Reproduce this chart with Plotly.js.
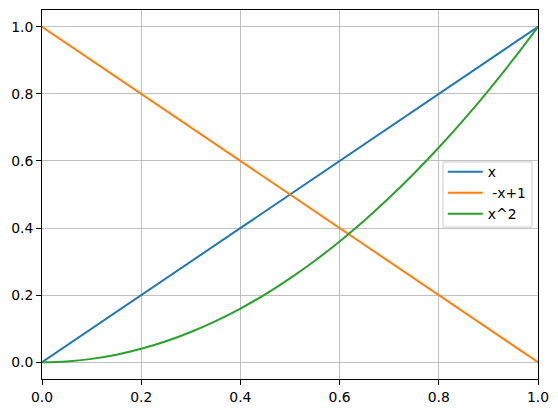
<!DOCTYPE html>
<html>
<head>
<meta charset="utf-8">
<script src="https://cdn.plot.ly/plotly-3.0.1.min.js"></script>
<style>html,body{margin:0;padding:0;background:#fff;}#chart{width:558px;height:413px;}</style>
</head>
<body>
<div id="chart"></div>
<script>
const xLine = [0, 1];
const yX = [0, 1];
const yNegXPlus1 = [1, 0];
const xCurve = [0, 0.05, 0.1, 0.15, 0.2, 0.25, 0.3, 0.35, 0.4, 0.45, 0.5, 0.55, 0.6, 0.65, 0.7, 0.75, 0.8, 0.85, 0.9, 0.95, 1.0];
const yXSquared = [0, 0.0025, 0.01, 0.0225, 0.04, 0.0625, 0.09, 0.1225, 0.16, 0.2025, 0.25, 0.3025, 0.36, 0.4225, 0.49, 0.5625, 0.64, 0.7225, 0.81, 0.9025, 1.0];
const seriesNames = ['x', '\u00a0-x+1', 'x^2'];
const tickVals = [0, 0.2, 0.4, 0.6, 0.8, 1.0];
const tickText = ['0.0', '0.2', '0.4', '0.6', '0.8', '1.0'];

const colors = ['#1f77b4', '#ff7f0e', '#2ca02c'];
const traces = [
  {x: xLine, y: yX, name: seriesNames[0]},
  {x: xLine, y: yNegXPlus1, name: seriesNames[1]},
  {x: xCurve, y: yXSquared, name: seriesNames[2], line: {shape: 'spline'}}
].map((t, i) => Object.assign({type: 'scatter', mode: 'lines'}, t, {
  line: Object.assign({color: colors[i], width: 2}, t.line || {})
}));

const axisCommon = {
  showline: true, mirror: true, linecolor: '#000', linewidth: 1,
  ticks: 'outside', ticklen: 5, tickwidth: 1, tickcolor: '#000',
  showgrid: true, gridcolor: '#b0b0b0', gridwidth: 0.8,
  zeroline: false, tickvals: tickVals, ticktext: tickText,
  tickfont: {family: 'DejaVu Sans', size: 13.9, color: '#000'}
};

const layout = {
  width: 558, height: 413,
  margin: {l: 42, r: 20, t: 10, b: 34, pad: 0},
  paper_bgcolor: '#fff', plot_bgcolor: '#fff',
  font: {family: 'DejaVu Sans', size: 13.9, color: '#000'},
  xaxis: Object.assign({}, axisCommon, {range: [0, 1]}),
  yaxis: Object.assign({}, axisCommon, {range: [-0.05, 1.05]}),
  showlegend: true,
  shapes: [{
    type: 'rect', xref: 'paper', yref: 'paper', layer: 'above',
    x0: 0.8085, x1: 0.988, y0: 0.412, y1: 0.588,
    line: {color: '#cccccc', width: 1}, fillcolor: 'rgba(255,255,255,0.8)'
  }],
  legend: {
    x: 0.808, y: 0.604, xanchor: 'left', yanchor: 'top',
    bgcolor: 'rgba(0,0,0,0)', borderwidth: 0, itemwidth: 35,
    font: {family: 'DejaVu Sans', size: 13.9, color: '#000'},
    tracegroupgap: 0
  }
};

Plotly.newPlot('chart', traces, layout, {staticPlot: true, displayModeBar: false});
</script>
</body>
</html>
